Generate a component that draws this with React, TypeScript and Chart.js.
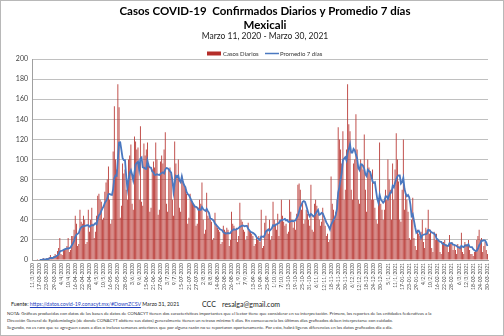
import React, { useEffect, useRef } from "react";
import { Chart, registerables } from "chart.js";

Chart.register(...registerables);

const TITLE = "Casos COVID-19  Confirmados Diarios y Promedio 7 días";
const PLACE = "Mexicali";
const RANGE = "Marzo 11, 2020 - Marzo 30, 2021";
const BAR_LABEL = "Casos Diarios";
const LINE_LABEL = "Promedio 7 días";
const START_DATE = "2020-03-11";
const LABEL_EVERY = 6;

const Y_TICKS = [0, 20, 40, 60, 80, 100, 120, 140, 160, 180, 200];

// Daily confirmed cases, Mexicali, from 11-03-2020
const casos: number[] = [
  0, 0, 0, 0, 1, 0, 0,
  0, 1, 2, 1, 0, 2, 1,
  3, 5, 2, 1, 4, 6, 5,
  9, 12, 22, 6, 5, 10, 11,
  12, 14, 22, 8, 10, 24, 24,
  30, 44, 36, 14, 16, 50, 38,
  36, 44, 40, 16, 18, 50, 28,
  40, 52, 36, 22, 28, 44, 64,
  66, 60, 58, 40, 42, 68, 77,
  80, 93, 60, 36, 40, 108, 153,
  100, 90, 175, 152, 42, 54, 96,
  86, 90, 70, 60, 100, 104, 115,
  56, 50, 123, 118, 110, 112, 60,
  133, 58, 54, 116, 104, 110, 117,
  96, 48, 52, 90, 98, 92, 117,
  100, 45, 50, 98, 104, 96, 110,
  127, 56, 48, 90, 92, 86, 60,
  44, 118, 96, 84, 100, 52, 48,
  84, 78, 74, 72, 66, 36, 42,
  66, 60, 58, 56, 54, 34, 36,
  52, 60, 56, 77, 40, 26, 30,
  67, 44, 42, 40, 38, 20, 22,
  47, 36, 32, 30, 28, 16, 18,
  34, 30, 28, 32, 30, 14, 20,
  48, 36, 34, 30, 32, 18, 24,
  57, 40, 38, 30, 28, 20, 24,
  37, 30, 28, 26, 24, 14, 16,
  22, 20, 24, 18, 50, 12, 14,
  37, 44, 30, 26, 40, 20, 24,
  58, 40, 36, 30, 46, 24, 40,
  60, 44, 38, 34, 36, 26, 28,
  60, 48, 40, 32, 38, 30, 46,
  75, 76, 70, 50, 58, 36, 40,
  50, 46, 40, 34, 75, 30, 28,
  56, 60, 54, 46, 40, 34, 38,
  52, 40, 34, 24, 26, 18, 20,
  83, 56, 50, 40, 48, 60, 132,
  120, 110, 96, 128, 60, 70, 110,
  175, 135, 128, 70, 60, 96, 100,
  145, 110, 60, 56, 100, 95, 90,
  125, 70, 48, 100, 92, 88, 60,
  90, 60, 52, 40, 36, 60, 117,
  56, 50, 40, 50, 70, 60, 100,
  80, 70, 40, 96, 60, 90, 126,
  100, 78, 40, 38, 70, 120, 50,
  66, 60, 48, 22, 20, 40, 62,
  22, 14, 10, 30, 26, 24, 28,
  40, 18, 12, 32, 30, 50, 26,
  30, 12, 8, 28, 20, 26, 20,
  18, 8, 6, 16, 18, 20, 16,
  14, 8, 25, 16, 18, 10, 14,
  10, 6, 16, 14, 12, 27, 8,
  6, 18, 16, 14, 20, 10, 6,
  6, 4, 8, 10, 20, 24, 30,
  20, 22, 8, 14, 18, 10, 6,
];

const FUENTE_URL = "https://datos.covid-19.conacyt.mx/#DownZCSV";
const FUENTE_DATE = "Marzo 31, 2021";
const AUTHOR = "CCC";
const EMAIL = "resalga@gmail.com";
const NOTA = [
  "NOTA: Gráficas producidas con datos de las bases de datos de CONACYT tienen dos características importantes que el lector tiene que considerar en su interpretación. Primero, los reportes de las entidades federativas a la",
  "Dirección General de Epidemiología (de donde CONACYT obtiene sus datos) generalmente tienen un retraso mínimo 5 días. En consecuencia los últimos días graficados deben interpretarse con cuidado.",
  "Segundo, no es raro que se agreguen casos a días o incluso semanas anteriores que por alguna razón no se reportaron oportunamente. Por esto, habrá ligeras diferencias en los datos graficados día a día.",
];

const BAR_COLOR = "#B52E2A";
const LINE_COLOR = "#4A78C0";
const GRID_COLOR = "#C0C0C0";
const FONT = "Lato, 'DejaVu Sans', sans-serif";

function makeLabels(n: number): string[] {
  const out: string[] = [];
  const base = new Date(START_DATE + "T12:00:00Z");
  for (let i = 0; i < n; i++) {
    const d = new Date(base.getTime() + i * 86400000);
    const dd = d.getUTCDate();
    const mm = d.getUTCMonth() + 1;
    const yy = d.getUTCFullYear();
    if (dd <= 12) out.push(`${dd}/${mm}/${yy}`);
    else out.push(`${String(dd).padStart(2, "0")}-${String(mm).padStart(2, "0")}-${yy}`);
  }
  return out;
}

function movingAverage(v: number[]): (number | null)[] {
  return v.map((_, i) => {
    if (i < 6) return null;
    let s = 0;
    for (let k = i - 6; k <= i; k++) s += v[k];
    return s / 7;
  });
}

const headPlugin = {
  id: "headings",
  afterDraw(chart: any) {
    const ctx = chart.ctx as CanvasRenderingContext2D;
    ctx.save();
    ctx.fillStyle = "#000";
    ctx.textAlign = "center";
    ctx.textBaseline = "middle";
    ctx.font = `bold 11.5px ${FONT}`;
    ctx.fillText(TITLE, 265, 11);
    ctx.fillText(PLACE, 265, 25);
    ctx.font = `8.5px ${FONT}`;
    ctx.fillStyle = "#222";
    ctx.fillText(RANGE, 265, 36.5);
    // legend
    ctx.fillStyle = BAR_COLOR;
    ctx.fillRect(207, 51.5, 14, 4);
    ctx.strokeStyle = LINE_COLOR;
    ctx.lineWidth = 1.5;
    ctx.beginPath();
    ctx.moveTo(265, 53.5);
    ctx.lineTo(279, 53.5);
    ctx.stroke();
    ctx.fillStyle = "#333";
    ctx.textAlign = "left";
    ctx.font = `6px ${FONT}`;
    ctx.fillText(BAR_LABEL, 223, 54);
    ctx.fillText(LINE_LABEL, 280, 54);
    ctx.restore();
  },
};

export default function App() {
  const ref = useRef<HTMLCanvasElement>(null);

  useEffect(() => {
    document.body.style.margin = "0";
    const labels = makeLabels(casos.length);
    const avg = movingAverage(casos);
    const chart = new Chart(ref.current as HTMLCanvasElement, {
      type: "bar",
      data: {
        labels,
        datasets: [
          {
            type: "line",
            label: LINE_LABEL,
            data: avg,
            borderColor: LINE_COLOR,
            borderWidth: 1.8,
            pointRadius: 0,
            tension: 0,
            fill: false,
            order: 0,
          } as any,
          {
            type: "bar",
            label: BAR_LABEL,
            data: casos,
            backgroundColor: BAR_COLOR,
            borderWidth: 0,
            barPercentage: 0.7,
            categoryPercentage: 1,
            order: 1,
          },
        ],
      },
      options: {
        responsive: false,
        animation: false,
        devicePixelRatio: 1,
        layout: { padding: { top: 59, right: 16, left: 0, bottom: 0 } },
        plugins: {
          legend: { display: false },
          title: { display: false },
          tooltip: { enabled: false },
        },
        scales: {
          x: {
            grid: { display: false, drawTicks: false },
            border: { display: true, color: "#A0A0A0" },
            ticks: {
              autoSkip: false,
              minRotation: 90,
              maxRotation: 90,
              padding: 3,
              color: "#444",
              font: { size: 5, family: FONT },
              callback: (_v: any, i: number) => (i % LABEL_EVERY === 0 ? labels[i] : null),
            },
            afterFit: (s: any) => {
              s.height = 36;
            },
          },
          y: {
            min: 0,
            max: 200,
            afterBuildTicks: (s: any) => {
              s.ticks = Y_TICKS.map((v) => ({ value: v }));
            },
            grid: { color: GRID_COLOR, drawTicks: false, lineWidth: 1 },
            border: { display: true, color: "#A0A0A0" },
            ticks: {
              padding: 4,
              color: "#444",
              font: { size: 7, family: FONT },
            },
            afterFit: (s: any) => {
              s.width = 32;
            },
          },
        },
      },
      plugins: [headPlugin],
    });
    return () => chart.destroy();
  }, []);

  const small: React.CSSProperties = {
    position: "absolute",
    left: 6,
    whiteSpace: "nowrap",
    fontSize: 4.4,
    lineHeight: "6px",
    color: "#333",
    fontFamily: FONT,
  };

  return (
    <div
      style={{
        position: "fixed",
        left: 0,
        top: 0,
        width: 504,
        height: 336,
        background: "#fff",
        overflow: "hidden",
        boxSizing: "border-box",
        border: "1px solid #B8B8B8",
        fontFamily: FONT,
      }}
    >
      <canvas
        ref={ref}
        width={504}
        height={296}
        style={{ position: "absolute", left: -1, top: -1, width: 504, height: 296 }}
      />
      <div style={{ position: "absolute", left: 10, top: 300, fontSize: 5.3, whiteSpace: "nowrap", color: "#222" }}>
        Fuente:{" "}
        <span style={{ color: "#1F3FBF", textDecoration: "underline" }}>{FUENTE_URL}</span>{" "}
        {FUENTE_DATE}
      </div>
      <div style={{ position: "absolute", left: 201, top: 298.5, fontSize: 7, whiteSpace: "nowrap", color: "#222" }}>
        {AUTHOR}
      </div>
      <div style={{ position: "absolute", left: 221, top: 298.5, fontSize: 7, whiteSpace: "nowrap", color: "#222" }}>
        {EMAIL}
      </div>
      <div style={{ ...small, top: 310 }}>{NOTA[0]}</div>
      <div style={{ ...small, top: 317 }}>{NOTA[1]}</div>
      <div style={{ ...small, top: 324 }}>{NOTA[2]}</div>
    </div>
  );
}
